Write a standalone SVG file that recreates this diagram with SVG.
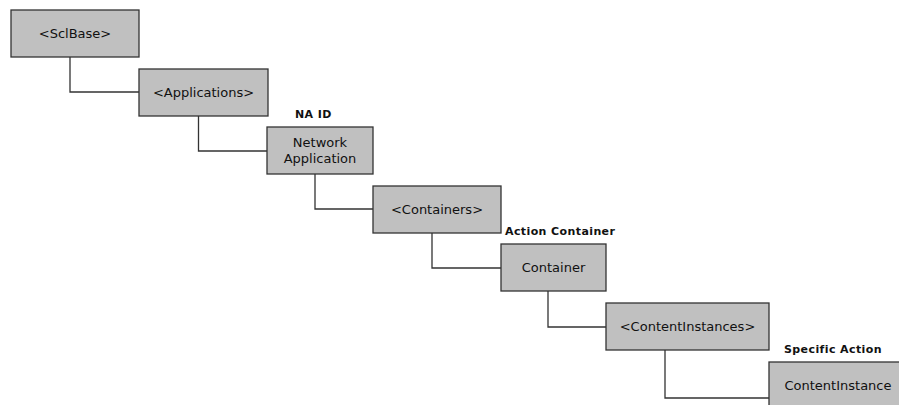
<svg xmlns="http://www.w3.org/2000/svg" width="899" height="405" viewBox="0 0 899 405">
<style>
.box{fill:#c0c0c0;stroke:#333;stroke-width:1.3}
.t{font-family:"DejaVu Sans",sans-serif;font-size:13px;fill:#111;text-anchor:middle}
.lb{font-family:"DejaVu Sans",sans-serif;font-size:11px;font-weight:bold;fill:#111;letter-spacing:0.4px}
.c{fill:none;stroke:#333;stroke-width:1.3}
</style>
<rect width="899" height="405" fill="#fff"/>
<g id="connectors">
<path class="c" d="M70,57V92H139"/>
<path class="c" d="M198.5,116V151H267"/>
<path class="c" d="M315,174V209H373"/>
<path class="c" d="M432,233V268H501"/>
<path class="c" d="M548,291V327H606"/>
<path class="c" d="M665,350V398H769"/>
</g>
<g id="sclbase"><rect class="box" x="11" y="10" width="128" height="47"/><text class="t" x="75" y="38">&lt;SclBase&gt;</text></g>
<g id="applications"><rect class="box" x="139" y="69" width="129" height="47"/><text class="t" x="203.5" y="97">&lt;Applications&gt;</text></g>
<g id="network-application"><text class="lb" x="295" y="118">NA  ID</text><rect class="box" x="267" y="127" width="106" height="47"/><text class="t" x="320" y="147">Network</text><text class="t" x="320" y="163">Application</text></g>
<g id="containers"><rect class="box" x="373" y="186" width="128" height="47"/><text class="t" x="437" y="214">&lt;Containers&gt;</text></g>
<g id="container"><text class="lb" x="505" y="235">Action Container</text><rect class="box" x="501" y="244" width="105" height="47"/><text class="t" x="553.5" y="272">Container</text></g>
<g id="contentinstances"><rect class="box" x="606" y="303" width="163" height="47"/><text class="t" x="687.5" y="331">&lt;ContentInstances&gt;</text></g>
<g id="contentinstance"><text class="lb" x="784" y="353">Specific Action</text><rect class="box" x="769" y="362" width="138" height="47"/><text class="t" x="838" y="390">ContentInstance</text></g>
</svg>
